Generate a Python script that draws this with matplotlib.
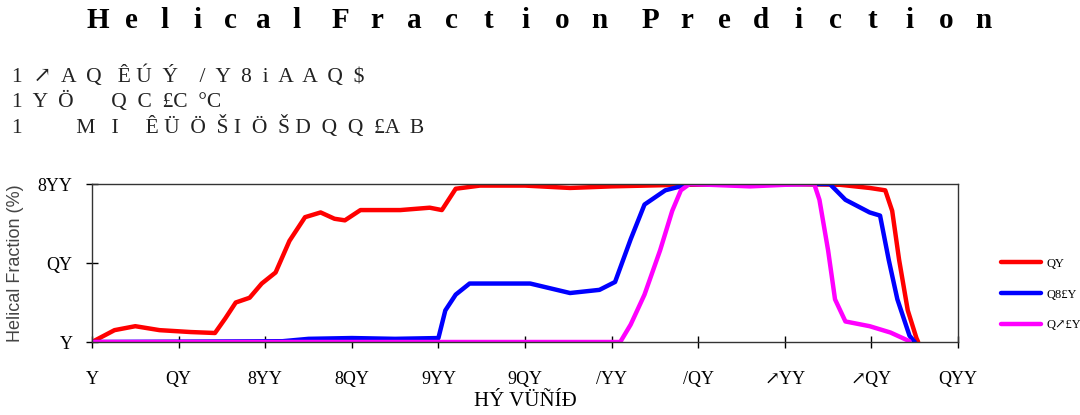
import matplotlib

matplotlib.use("Agg", force=True)
import matplotlib.pyplot as plt

# residue index vs helical fraction (%)
red_x = [0, 13, 25, 39, 57, 71, 77, 83, 91, 98, 106, 114, 123, 132, 140, 146, 155, 178,
         195, 202, 210, 224, 250, 276, 300, 340, 400, 432, 449, 458, 462, 466, 471, 476, 477]
red_y = [0, 7.5, 10, 7.5, 6.3, 5.7, 15, 25, 28, 37, 44, 64, 79, 82, 78, 77, 83.5, 83.5,
         85, 83.5, 97, 99, 99, 97.5, 98.5, 99.5, 100, 99.5, 97.5, 96, 83, 52, 20, 2.5, 0]

blue_x = [0, 110, 125, 150, 175, 200, 204, 210, 218, 253, 276, 293, 302, 311, 319, 331,
          345, 426, 435, 449, 455, 460, 465, 472, 475]
blue_y = [0, 0.5, 2, 2.5, 2, 2.5, 20, 30, 37, 37, 31, 33, 38, 65, 87, 96,
          100, 100, 90, 82, 80, 52, 27, 4, 0]

mag_x = [0, 305, 311, 319, 328, 335, 340, 345, 380, 400, 417, 420, 425, 429, 435, 449,
         461, 472]
mag_y = [0, 0, 11, 30, 58, 83, 96, 100, 98.5, 99.5, 100, 90, 58, 27, 13, 10, 6, 0.5]

series_labels = ["QY", "Q8£Y", "Q↗£Y"]
series_colors = ["#ff0000", "#0000ff", "#ff00ff"]

x_ticks = [0, 50, 100, 150, 200, 250, 300, 350, 400, 450, 500]
x_ticklabels = ["Y", "QY", "8YY", "8QY", "9YY", "9QY", "/YY", "/QY", "↗YY", "↗QY", "QYY"]
y_ticks = [0, 50, 100]
y_ticklabels = ["Y", "QY", "8YY"]

title_words = ["Helical", "Fraction", "Prediction"]

info_lines = [
    "1  ↗  A  Q   Ê Ú  Ý    /  Y  8  i  A  A  Q  $",
    "1  Y  Ö       Q  C  £C  °C",
    "1          M   I     Ê Ü  Ö  Š I  Ö  Š D  Q  Q  £A  B",
]

serif = ["Liberation Serif", "DejaVu Serif"]

fig = plt.figure(figsize=(10.8, 4.15), dpi=100)
W, H = 1080, 415

# spaced-out title, one letter per slot
starts = [98, 340, 650]
pitch = [33, 37, 37]
for word, x0, p in zip(title_words, starts, pitch):
    for k, ch in enumerate(word):
        fig.text((x0 + p * k) / W, 1 - 20 / H, ch, ha="center", va="center",
                 fontsize=21, fontweight="bold", family=serif)

for i, line in enumerate(info_lines):
    fig.text(12 / W, 1 - (76 + 25.5 * i) / H, line, ha="left", va="center",
             fontsize=15.5, family=serif, color="#222222")

ax = fig.add_axes([92 / W, 1 - 342 / H, (958 - 92) / W, (342 - 184) / H])
for xs, ys, c, lab in zip([red_x, blue_x, mag_x], [red_y, blue_y, mag_y],
                          series_colors, series_labels):
    ax.plot(xs, ys, color=c, lw=3.2, label=lab, solid_capstyle="round")

ax.set_xlim(0, 500)
ax.set_ylim(0, 100)
ax.set_xticks(x_ticks)
ax.set_xticklabels(x_ticklabels, family=serif, fontsize=13)
ax.set_yticks(y_ticks)
ax.set_yticklabels(y_ticklabels, family=serif, fontsize=13)
ax.tick_params(axis="x", direction="inout", length=8, width=1, pad=17)
ax.tick_params(axis="y", direction="inout", length=8, width=1, pad=10)
for s in ax.spines.values():
    s.set_linewidth(1)
    s.set_color("#333333")

ax.set_ylabel("Helical Fraction (%)", family="Liberation Sans", fontsize=13,
              color="#444444", labelpad=10)
ax.set_xlabel("HÝ VÜÑÍÐ", family=serif, fontsize=15, labelpad=3)

ax.legend(loc="center left", bbox_to_anchor=(1.05, 0.30), frameon=False,
          borderaxespad=0, borderpad=0,
          prop={"family": serif, "size": 9}, handlelength=3.2,
          handletextpad=0.4, labelspacing=1.5)

fig.savefig("out.png", dpi=100)
